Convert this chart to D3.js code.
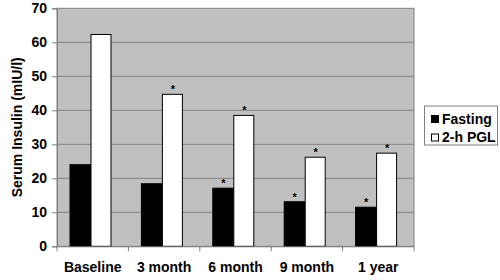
<!DOCTYPE html>
<html><head><meta charset="utf-8">
<script src="https://cdn.jsdelivr.net/npm/d3@7"></script>
<style>body{margin:0;background:#fff}svg{display:block}text{font-family:Arial,"Liberation Sans",sans-serif;font-weight:bold}</style>
</head><body><svg id="c" width="500" height="280"></svg>
<script>
const categories = ["Baseline","3 month","6 month","9 month","1 year"];
const fasting = [24.0, 18.4, 17.1, 13.1, 11.5];
const pgl = [62.3, 44.7, 38.5, 26.2, 27.4];
const fastingStar = [false, false, true, true, true];
const pglStar = [false, true, true, true, true];
const seriesNames = ["Fasting", "2-h PGL"];
const yTicks = [0,10,20,30,40,50,60,70];

const svg = d3.select("#c");
const m = {l:57, r:414, t:8.3, b:246.3};
const x = d3.scaleBand().domain(categories).range([m.l, m.r]).paddingInner(0).paddingOuter(0);
const y = d3.scaleLinear().domain([0,70]).range([m.b, m.t]);
const FONT = "Arial,'Liberation Sans',sans-serif";

svg.append("rect").attr("x",m.l).attr("y",m.t).attr("width",m.r-m.l).attr("height",m.b-m.t)
  .attr("fill","#c0c0c0").attr("stroke","#808080").attr("stroke-width",1);
svg.append("g").selectAll("line").data(yTicks.slice(1,-1)).join("line")
  .attr("x1",m.l).attr("x2",m.r).attr("y1",d=>y(d)).attr("y2",d=>y(d))
  .attr("stroke","#808080").attr("stroke-width",1);

const barW = 21;
const g = svg.append("g");
categories.forEach((c,i)=>{
  const x0 = x(c) + 13;
  g.append("rect").attr("x",x0).attr("y",y(fasting[i])).attr("width",barW).attr("height",y(0)-y(fasting[i]))
    .attr("fill","#000").attr("stroke","#000");
  g.append("rect").attr("x",x0+barW).attr("y",y(pgl[i])).attr("width",barW-1).attr("height",y(0)-y(pgl[i]))
    .attr("fill","#fff").attr("stroke","#000");
  if (fastingStar[i]) g.append("text").attr("x",x0+barW/2).attr("y",y(fasting[i])-1).attr("text-anchor","middle")
    .attr("font-size",11).attr("font-weight","normal").text("*");
  if (pglStar[i]) g.append("text").attr("x",x0+barW+barW/2).attr("y",y(pgl[i])-1).attr("text-anchor","middle")
    .attr("font-size",11).attr("font-weight","normal").text("*");
});

const ya = svg.append("g").attr("transform",`translate(${m.l},0)`)
  .call(d3.axisLeft(y).tickValues(yTicks).tickSize(5).tickPadding(5));
ya.select(".domain").attr("stroke","#808080");
ya.selectAll(".tick line").attr("stroke","#808080");
ya.selectAll("text").attr("font-size",14).attr("fill","#000").attr("font-family",FONT);

const xa = svg.append("g").attr("transform",`translate(0,${m.b})`)
  .call(d3.axisBottom(x).tickSize(0).tickPadding(16));
xa.select(".domain").attr("stroke","#808080");
xa.selectAll("text").attr("font-size",14).attr("fill","#000").attr("font-family",FONT);
svg.append("g").selectAll("line").data(categories.concat([null])).join("line")
  .attr("x1",(d,i)=>m.l + i*x.bandwidth()).attr("x2",(d,i)=>m.l + i*x.bandwidth())
  .attr("y1",m.b).attr("y2",m.b+5).attr("stroke","#808080");

svg.append("text").attr("transform",`translate(22,${(m.t+m.b)/2}) rotate(-90)`)
  .attr("text-anchor","middle").attr("font-size",14).text("Serum Insulin (mIU/l)");

const lg = svg.append("g");
lg.append("rect").attr("x",424.5).attr("y",106).attr("width",73).attr("height",39)
  .attr("fill","#fff").attr("stroke","#808080");
seriesNames.forEach((n,i)=>{
  const cy = 119 + i*18.5;
  lg.append("rect").attr("x",431.5).attr("y",cy-3.5).attr("width",7).attr("height",7)
    .attr("fill", i===0?"#000":"#fff").attr("stroke","#000");
  lg.append("text").attr("x",442).attr("y",cy).attr("dy","0.35em").attr("font-size",14).text(n);
});
</script></body></html>
